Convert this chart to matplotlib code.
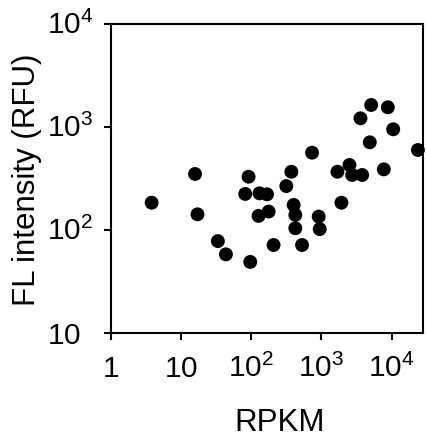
import matplotlib
matplotlib.use("Agg")
import matplotlib.pyplot as plt
import matplotlib.transforms as mtransforms

plt.rcParams["font.family"] = "Liberation Sans"
plt.rcParams["mathtext.fontset"] = "custom"
plt.rcParams["mathtext.rm"] = "Liberation Sans"

# RPKM vs FL intensity
rpkm = [3.8, 15.8, 17.1, 33.4, 43.5, 96.8, 91.5, 82, 131, 168, 127, 177, 208,
        316, 373, 402, 425, 425, 530, 736, 915, 946, 1930, 1693, 2512, 2746,
        3813, 7762, 4898, 3606, 5128, 8851, 10570, 23770]
fl = [184, 350, 142, 78, 58, 49, 329, 224, 227, 222, 137, 151, 71.5,
      267, 368, 175, 140, 104, 71.5, 563, 135, 102, 184, 368, 428, 342,
      342, 388, 710, 1214, 1636, 1553, 950, 598]

x_ticks = [1, 10, 100, 1000, 10000]
x_labels = [r"$\mathregular{1}$", r"$\mathregular{10}$", r"$\mathregular{10^2}$",
            r"$\mathregular{10^3}$", r"$\mathregular{10^4}$"]
y_ticks = [10, 100, 1000, 10000]
y_labels = [r"$\mathregular{10}$", r"$\mathregular{10^2}$",
            r"$\mathregular{10^3}$", r"$\mathregular{10^4}$"]

fig = plt.figure(figsize=(4.26, 4.37), dpi=100)
ax = fig.add_axes([111 / 426, 1 - 333 / 437, 312 / 426, 309 / 437])

ax.scatter(rpkm, fl, s=100, color="black", edgecolors="none", zorder=3, clip_on=False)

ax.set_xscale("log")
ax.set_yscale("log")
ax.set_xlim(1, 28100)
ax.set_ylim(10, 10000)

for side in ax.spines.values():
    side.set_linewidth(1.5)

ax.minorticks_off()
ax.set_xticks(x_ticks, labels=x_labels)
ax.set_yticks(y_ticks, labels=[""] * len(y_ticks))
ax.tick_params(axis="both", direction="out", length=5, width=1.5, labelsize=21.5)
ax.tick_params(axis="x", pad=27)
plt.setp(ax.get_xticklabels(), va="baseline")

# y tick labels: left aligned so the "10" parts line up
shift = mtransforms.ScaledTranslation(0, -10.5 / 100, fig.dpi_scale_trans)
for val, lab in zip(y_ticks, y_labels):
    ax.text(-64 / 312, val, lab, transform=ax.get_yaxis_transform() + shift,
            ha="left", va="baseline", fontsize=21.5, clip_on=False)

fig.text(280 / 426, 1 - 431 / 437, "RPKM", ha="center", va="baseline", fontsize=22.5)
fig.text(35 / 426, 1 - 180 / 437, "FL intensity (RFU)", rotation=90,
         rotation_mode="anchor", ha="center", va="baseline", fontsize=22.5)

fig.savefig("out.png", dpi=100)
